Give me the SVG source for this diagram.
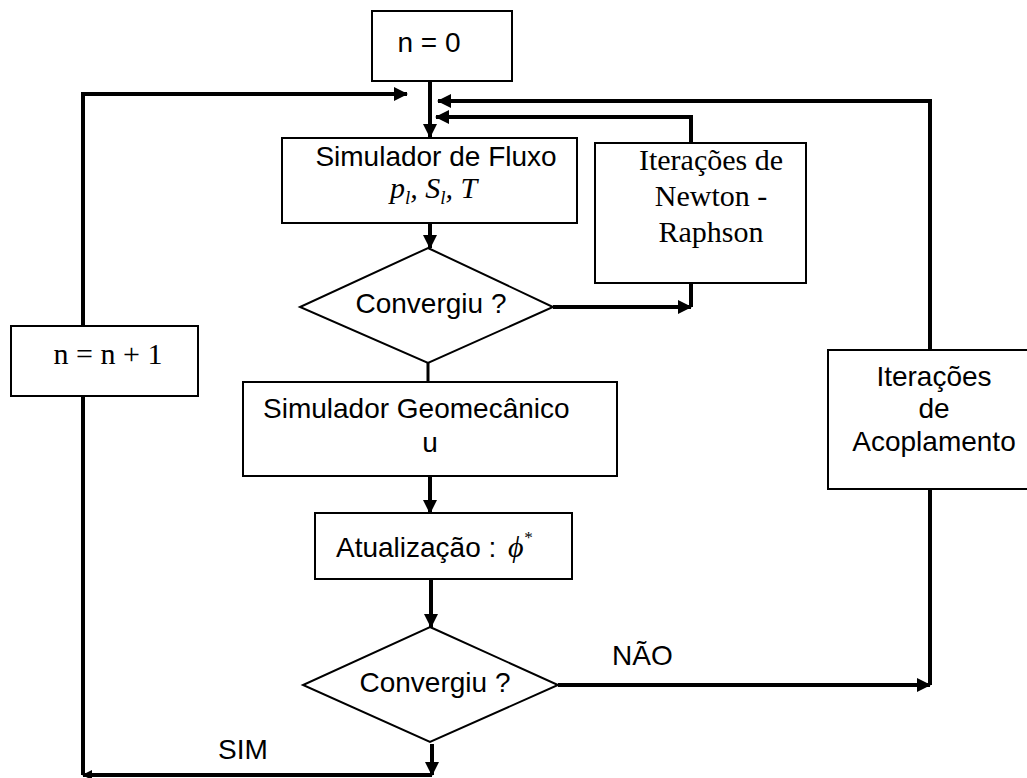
<svg xmlns="http://www.w3.org/2000/svg" width="1027" height="778" viewBox="0 0 1027 778">
  <style>
    .box { fill: #fff; stroke: #000; stroke-width: 2; }
    .sans { font-family: "Liberation Sans", Arial, sans-serif; font-size: 28px; fill: #000; }
    .serif { font-family: "Liberation Serif", "Times New Roman", serif; font-size: 30px; fill: #000; }
    .it { font-style: italic; }
    .wire { fill: none; stroke: #000; stroke-width: 4; }
    .thin { fill: none; stroke: #000; stroke-width: 3; }
  </style>
  <defs>
    <marker id="head" markerUnits="userSpaceOnUse" markerWidth="14" markerHeight="14" refX="13" refY="7" orient="auto">
      <path d="M0,0 L14,7 L0,14 z" fill="#000"/>
    </marker>
    <marker id="headSmall" markerUnits="userSpaceOnUse" markerWidth="10" markerHeight="10" refX="9" refY="5" orient="auto">
      <path d="M0,0 L10,5 L0,10 z" fill="#000"/>
    </marker>
  </defs>

  <!-- connectors -->
  <g id="connectors">
    <!-- start into flow simulator -->
    <path class="wire" d="M430,81 V137" marker-end="url(#head)"/>
    <!-- time-step loop (SIM branch) -->
    <path class="wire" d="M432,744 V775" marker-end="url(#head)"/>
    <path class="wire" d="M432,775 H83" marker-end="url(#headSmall)"/>
    <path class="wire" d="M83,775 V396"/>
    <path class="wire" d="M83,326 V94 H407" marker-end="url(#head)"/>
    <!-- coupling loop (NÃO branch) -->
    <path class="wire" d="M558,685 H930" marker-end="url(#head)"/>
    <path class="wire" d="M930,685 V489"/>
    <path class="wire" d="M930,350 V101 H438" marker-end="url(#head)"/>
    <!-- Newton-Raphson loop -->
    <path class="wire" d="M553,307 H691" marker-end="url(#head)"/>
    <path class="wire" d="M691,307 V283"/>
    <path class="wire" d="M691,143 V117 H436" marker-end="url(#head)"/>
    <!-- main column -->
    <path class="wire" d="M430,223 V248" marker-end="url(#head)"/>
    <path class="thin" d="M428,363 V382"/>
    <path class="wire" d="M430,476 V513" marker-end="url(#head)"/>
    <path class="wire" d="M431,579 V627" marker-end="url(#head)"/>
  </g>

  <g id="start">
    <rect class="box" x="372" y="11" width="140" height="70"/>
    <text class="sans" x="429" y="52" text-anchor="middle">n = 0</text>
  </g>

  <g id="flow-simulator">
    <rect class="box" x="282" y="138" width="295" height="85"/>
    <text class="sans" x="436" y="166" text-anchor="middle">Simulador de Fluxo</text>
    <text class="serif it" x="390" y="198">p<tspan font-size="19" dy="6">l</tspan><tspan dy="-6">, S</tspan><tspan font-size="19" dy="6">l</tspan><tspan dy="-6">, T</tspan></text>
  </g>

  <g id="newton-raphson">
    <rect class="box" x="595" y="143" width="211" height="140"/>
    <text class="serif" x="711" y="170" text-anchor="middle">Iterações de</text>
    <text class="serif" x="711" y="206" text-anchor="middle">Newton -</text>
    <text class="serif" x="711" y="242" text-anchor="middle">Raphson</text>
  </g>

  <g id="flow-check">
    <polygon class="box" points="428,248 553,307 428,363 300,307"/>
    <text class="sans" x="431" y="313" text-anchor="middle">Convergiu ?</text>
  </g>

  <g id="geomechanics">
    <rect class="box" x="243" y="382" width="374" height="94"/>
    <text class="sans" x="263" y="418">Simulador Geomecânico</text>
    <text class="sans" x="430" y="452" text-anchor="middle">u</text>
  </g>

  <g id="update">
    <rect class="box" x="315" y="513" width="257" height="66"/>
    <text class="sans" x="336" y="557">Atualização : </text>
    <text class="serif it" x="508" y="557">ϕ<tspan font-size="17" dy="-14">*</tspan></text>
  </g>

  <g id="coupling-check">
    <polygon class="box" points="430,627 558,685 430,742 303,685"/>
    <text class="sans" x="435" y="692" text-anchor="middle">Convergiu ?</text>
  </g>

  <g id="step-increment">
    <rect class="box" x="11" y="326" width="187" height="70"/>
    <text class="serif" x="108" y="364" text-anchor="middle">n = n + 1</text>
  </g>

  <g id="coupling-iterations">
    <rect class="box" x="828" y="350" width="212" height="139"/>
    <text class="sans" x="934" y="386" text-anchor="middle" font-size="27">Iterações</text>
    <text class="sans" x="934" y="418" text-anchor="middle" font-size="27">de</text>
    <text class="sans" x="934" y="451" text-anchor="middle" font-size="27">Acoplamento</text>
  </g>

  <g id="labels">
    <text class="sans" x="612" y="665" font-size="26">NÃO</text>
    <text class="sans" x="218" y="759" font-size="26">SIM</text>
  </g>
</svg>
